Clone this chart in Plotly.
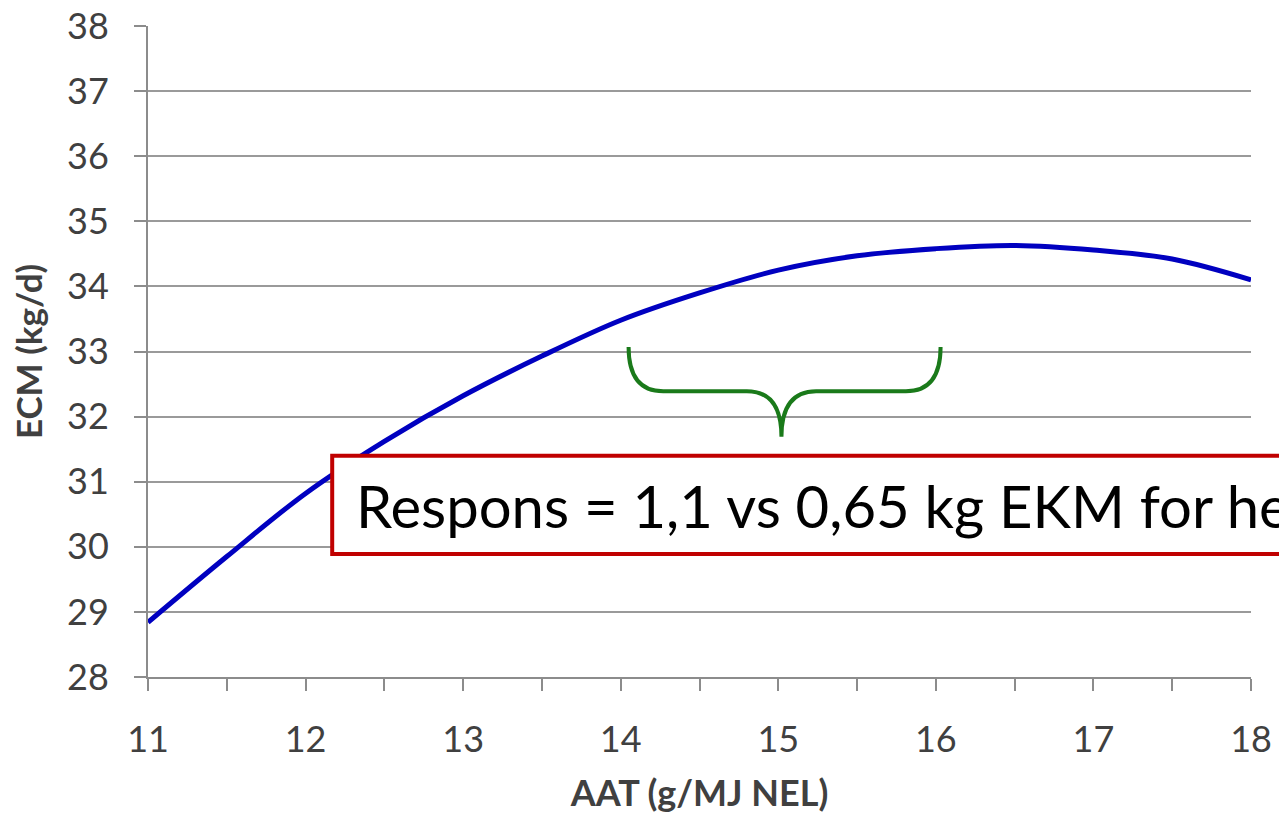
import plotly.graph_objects as go

# AAT (g/MJ NEL) vs ECM (kg/d)
aat = [11, 11.5, 12, 12.5, 13, 13.5, 14, 14.5, 15, 15.5, 16, 16.5, 17, 17.5, 18]
ecm = [28.84, 29.85, 30.82, 31.62, 32.32, 32.93, 33.48, 33.9, 34.25, 34.47,
       34.58, 34.63, 34.56, 34.42, 34.1]

x_ticks = [11, 12, 13, 14, 15, 16, 17, 18]
y_ticks = list(range(28, 39))

# brace over the 14-16 range
brace_x = [14.05, 15.02, 16.03]
brace_y = [33.07, 32.39, 31.69]

label = "Respons = 1,1 vs 0,65 kg EKM for he"

fig = go.Figure()
fig.add_trace(go.Scatter(x=aat, y=ecm, mode="lines",
                         line=dict(color="#0000c0", width=5, shape="spline"),
                         showlegend=False))

x0, xm, x1 = brace_x
yt, yh, ytip = brace_y
r = 0.22
path = (f"M {x0},{yt} Q {x0},{yh} {x0 + r},{yh} L {xm - r},{yh} "
        f"Q {xm},{yh} {xm},{ytip} Q {xm},{yh} {xm + r},{yh} "
        f"L {x1 - r},{yh} Q {x1},{yh} {x1},{yt}")
fig.add_shape(type="path", path=path, xref="x", yref="y",
              line=dict(color="#1a7a1a", width=4))

fig.add_shape(type="rect", xref="paper", yref="y",
              x0=0.167, x1=1.2, y0=29.89, y1=31.4,
              line=dict(color="#c00000", width=4), fillcolor="white", layer="above")
fig.add_annotation(text=label, xref="paper", yref="y", x=0.187, y=30.63,
                   xanchor="left", yanchor="middle", showarrow=False,
                   font=dict(family="Lato", size=58, color="black"))

fig.update_xaxes(range=[11, 18], tickvals=x_ticks, ticks="outside", ticklen=12,
                 tickcolor="#8c8c8c", tickwidth=2, showline=True, linecolor="#8c8c8c",
                 linewidth=2, showgrid=False, zeroline=False, automargin=False,
                 minor=dict(dtick=0.5, ticks="outside", ticklen=12, tickcolor="#8c8c8c",
                            tickwidth=2, showgrid=False),
                 ticklabelstandoff=18,
                 tickfont=dict(family="Lato", size=36, color="#404040"),
                 title=dict(text="<b>AAT (g/MJ NEL)</b>", standoff=22,
                            font=dict(family="Lato", size=36, color="#404040")))
fig.update_yaxes(range=[28, 38], tickvals=y_ticks, ticks="outside", ticklen=12,
                 tickcolor="#8c8c8c", tickwidth=2, showline=True, linecolor="#8c8c8c",
                 linewidth=2, showgrid=True, gridcolor="#9a9a9a", gridwidth=2,
                 zeroline=False, automargin=False, ticklabelstandoff=18,
                 tickfont=dict(family="Lato", size=36, color="#404040"),
                 title=dict(text="<b>ECM (kg/d)</b>", standoff=14,
                            font=dict(family="Lato", size=35, color="#404040")))

fig.update_layout(width=1279, height=815, plot_bgcolor="white", paper_bgcolor="white",
                  margin=dict(l=148, r=28, t=26, b=138))

# drop the default page margin so the figure sits at the window corner
fig.write_html("out.html", config={"displayModeBar": False},
               post_script="document.body.style.margin='0px';")
